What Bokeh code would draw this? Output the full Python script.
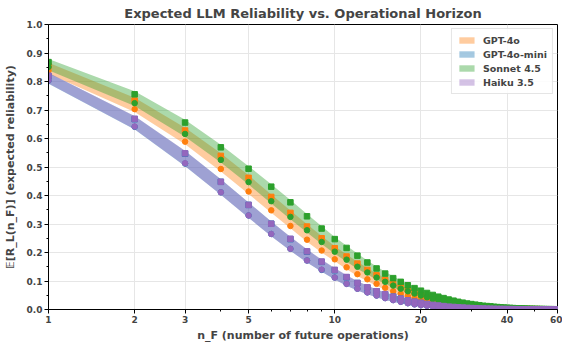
from bokeh.plotting import figure
from bokeh.models import (Range1d, FixedTicker, PrintfTickFormatter, ColumnDataSource, Legend, LegendItem)
from bokeh.embed import file_html
from bokeh.resources import INLINE

n_future = list(range(1, 61))

gpt4o_upper = [0.855, 0.733, 0.628, 0.539, 0.462, 0.395, 0.339, 0.291, 0.250, 0.215,
               0.186, 0.161, 0.139, 0.120, 0.104, 0.090, 0.078, 0.068, 0.059, 0.051,
               0.045, 0.039, 0.034, 0.030, 0.026, 0.023, 0.020, 0.017, 0.015, 0.013,
               0.012, 0.010, 0.009, 0.008, 0.007, 0.0062, 0.0055, 0.0048, 0.0043, 0.0038,
               0.0034, 0.0030, 0.0027, 0.0024, 0.0021, 0.0019, 0.0017, 0.0015, 0.0013, 0.0012,
               0.0011, 0.0010, 0.0009, 0.0008, 0.0007, 0.0006, 0.0006, 0.0005, 0.0005, 0.0004]
gpt4o_lower = [0.838, 0.703, 0.589, 0.493, 0.414, 0.348, 0.293, 0.245, 0.207, 0.176,
               0.148, 0.124, 0.106, 0.090, 0.076, 0.064, 0.055, 0.047, 0.040, 0.034,
               0.029, 0.025, 0.021, 0.018, 0.016, 0.014, 0.012, 0.010, 0.009, 0.0078,
               0.0068, 0.0059, 0.0051, 0.0045, 0.0039, 0.0034, 0.0030, 0.0026, 0.0023, 0.0020,
               0.0018, 0.0016, 0.0014, 0.0012, 0.0011, 0.0010, 0.0009, 0.0008, 0.0007, 0.0006,
               0.0005, 0.0005, 0.0004, 0.0004, 0.0003, 0.0003, 0.0003, 0.0002, 0.0002, 0.0002]

mini_upper = [0.819, 0.668, 0.547, 0.448, 0.367, 0.301, 0.247, 0.203, 0.167, 0.138,
              0.113, 0.093, 0.077, 0.064, 0.053, 0.045, 0.038, 0.032, 0.027, 0.023,
              0.019, 0.016, 0.014, 0.012, 0.010, 0.0088, 0.0076, 0.0066, 0.0057, 0.0050,
              0.0044, 0.0038, 0.0034, 0.0030, 0.0026, 0.0023, 0.0020, 0.0018, 0.0016, 0.0014,
              0.0013, 0.0011, 0.0010, 0.0009, 0.0008, 0.0007, 0.0007, 0.0006, 0.0005, 0.0005,
              0.0004, 0.0004, 0.0004, 0.0003, 0.0003, 0.0003, 0.0003, 0.0002, 0.0002, 0.0002]
mini_lower = [0.803, 0.641, 0.512, 0.411, 0.330, 0.265, 0.213, 0.172, 0.139, 0.112,
              0.090, 0.073, 0.060, 0.049, 0.040, 0.033, 0.027, 0.022, 0.018, 0.015,
              0.013, 0.011, 0.009, 0.0075, 0.0063, 0.0053, 0.0045, 0.0038, 0.0032, 0.0027,
              0.0023, 0.0020, 0.0017, 0.0015, 0.0013, 0.0011, 0.0010, 0.0008, 0.0007, 0.0006,
              0.0005, 0.0005, 0.0004, 0.0004, 0.0003, 0.0003, 0.0003, 0.0002, 0.0002, 0.0002,
              0.0002, 0.0002, 0.0001, 0.0001, 0.0001, 0.0001, 0.0001, 0.0001, 0.0001, 0.0001]

sonnet_upper = [0.868, 0.755, 0.656, 0.569, 0.494, 0.431, 0.376, 0.327, 0.284, 0.247,
                0.216, 0.189, 0.165, 0.144, 0.126, 0.110, 0.097, 0.085, 0.075, 0.066,
                0.058, 0.051, 0.045, 0.040, 0.035, 0.031, 0.027, 0.024, 0.021, 0.019,
                0.017, 0.015, 0.013, 0.012, 0.011, 0.0095, 0.0085, 0.0076, 0.0068, 0.0061,
                0.0055, 0.0049, 0.0044, 0.0040, 0.0036, 0.0032, 0.0029, 0.0026, 0.0024, 0.0021,
                0.0019, 0.0017, 0.0016, 0.0014, 0.0013, 0.0012, 0.0011, 0.0010, 0.0009, 0.0008]
sonnet_lower = [0.851, 0.724, 0.616, 0.525, 0.447, 0.380, 0.325, 0.278, 0.237, 0.203,
                0.175, 0.150, 0.130, 0.112, 0.097, 0.084, 0.073, 0.064, 0.056, 0.049,
                0.043, 0.037, 0.033, 0.029, 0.025, 0.022, 0.019, 0.017, 0.015, 0.013,
                0.012, 0.010, 0.009, 0.008, 0.007, 0.0063, 0.0056, 0.0050, 0.0044, 0.0039,
                0.0035, 0.0031, 0.0028, 0.0025, 0.0022, 0.0020, 0.0018, 0.0016, 0.0014, 0.0013,
                0.0011, 0.0010, 0.0009, 0.0008, 0.0007, 0.0006, 0.0006, 0.0005, 0.0005, 0.0004]

haiku_upper = [0.820, 0.669, 0.548, 0.448, 0.367, 0.301, 0.248, 0.204, 0.168, 0.139,
               0.114, 0.093, 0.078, 0.064, 0.054, 0.045, 0.038, 0.032, 0.027, 0.023,
               0.019, 0.016, 0.014, 0.012, 0.010, 0.0088, 0.0076, 0.0066, 0.0057, 0.0050,
               0.0044, 0.0038, 0.0034, 0.0030, 0.0026, 0.0023, 0.0020, 0.0018, 0.0016, 0.0014,
               0.0013, 0.0011, 0.0010, 0.0009, 0.0008, 0.0007, 0.0007, 0.0006, 0.0005, 0.0005,
               0.0004, 0.0004, 0.0004, 0.0003, 0.0003, 0.0003, 0.0003, 0.0002, 0.0002, 0.0002]
haiku_lower = [0.804, 0.642, 0.513, 0.411, 0.330, 0.265, 0.213, 0.172, 0.140, 0.112,
               0.090, 0.073, 0.060, 0.049, 0.040, 0.033, 0.027, 0.022, 0.018, 0.015,
               0.013, 0.011, 0.009, 0.0075, 0.0063, 0.0053, 0.0045, 0.0038, 0.0032, 0.0027,
               0.0023, 0.0020, 0.0017, 0.0015, 0.0013, 0.0011, 0.0010, 0.0008, 0.0007, 0.0006,
               0.0005, 0.0005, 0.0004, 0.0004, 0.0003, 0.0003, 0.0003, 0.0002, 0.0002, 0.0002,
               0.0002, 0.0002, 0.0001, 0.0001, 0.0001, 0.0001, 0.0001, 0.0001, 0.0001, 0.0001]

models = ["GPT-4o", "GPT-4o-mini", "Sonnet 4.5", "Haiku 3.5"]
colors = ["#ff7f0e", "#1f77b4", "#2ca02c", "#9467bd"]
uppers = [gpt4o_upper, mini_upper, sonnet_upper, haiku_upper]
lowers = [gpt4o_lower, mini_lower, sonnet_lower, haiku_lower]

x_ticks = [1, 2, 3, 5, 10, 20, 40, 60]
x_minor = [4, 6, 7, 8, 9, 30, 50]
y_ticks = [0.0, 0.1, 0.2, 0.3, 0.4, 0.5, 0.6, 0.7, 0.8, 0.9, 1.0]
y_minor = [0.05, 0.15, 0.25, 0.35, 0.45, 0.55, 0.65, 0.75, 0.85, 0.95]

FONT = "DejaVu Sans"

p = figure(width=562, height=344, x_axis_type="log", output_backend="svg",
           toolbar_location=None, x_range=Range1d(1, 60), y_range=Range1d(0, 1.0),
           title="Expected LLM Reliability vs. Operational Horizon",
           min_border_left=0, min_border_right=5, min_border_top=9, min_border_bottom=0)

p.title.align = "center"
p.title.text_font = FONT
p.title.text_font_size = "13px"
p.title.text_font_style = "bold"
p.title.offset = 0
p.title.standoff = 7

items = []
for name, col, up, lo in zip(models, colors, uppers, lowers):
    y_hi = [u + 0.006 + 0.006 * u for u in up]
    y_lo = [max(0.0, l - 0.006 - 0.006 * l) for l in lo]
    src = ColumnDataSource(dict(x=n_future, y1=y_lo, y2=y_hi))
    r = p.varea(x="x", y1="y1", y2="y2", source=src, fill_color=col, fill_alpha=0.4)
    items.append(LegendItem(label=name, renderers=[r]))

for name, col, up, lo in zip(models, colors, uppers, lowers):
    p.scatter(n_future, up, marker="square", size=5.5, fill_color=col, line_color=col)
    p.scatter(n_future, lo, marker="circle", size=5.5, fill_color=col, line_color=col)

legend = Legend(items=items, location="top_right")
legend.label_text_font = FONT
legend.label_text_font_style = "bold"
legend.label_text_font_size = "9.5px"
legend.glyph_width = 19
legend.glyph_height = 8
legend.label_height = 12
legend.label_standoff = 7
legend.spacing = 2
legend.padding = 5
legend.margin = 4
legend.border_line_color = "#cccccc"
legend.background_fill_alpha = 0.85
p.add_layout(legend)

xt = FixedTicker(ticks=x_ticks, minor_ticks=x_minor)
p.xaxis.ticker = xt
p.xaxis.formatter = PrintfTickFormatter(format="%d")
p.yaxis.ticker = FixedTicker(ticks=y_ticks, minor_ticks=y_minor)
p.yaxis.formatter = PrintfTickFormatter(format="%.1f")

for ax in (p.xaxis[0], p.yaxis[0]):
    ax.major_label_text_font = FONT
    ax.major_label_text_font_style = "bold"
    ax.major_label_text_font_size = "9px"
    ax.axis_label_text_font = FONT
    ax.axis_label_text_font_style = "bold"
    ax.axis_label_text_font_size = "11px"
    ax.axis_line_color = "black"
    ax.major_tick_line_color = "black"
    ax.minor_tick_line_color = "black"
    ax.major_tick_out = 4
    ax.major_tick_in = 0
    ax.minor_tick_out = 2
    ax.minor_tick_in = 0
    ax.major_label_standoff = 2
    ax.axis_label_standoff = 5

p.xaxis.axis_label_standoff = 3
p.yaxis.axis_label_standoff = 7
p.xaxis.axis_label = "n_F (number of future operations)"
p.yaxis.axis_label = "𝔼[R_L(n_F)] (expected reliability)"

p.xgrid.ticker = xt
p.grid.grid_line_color = "#e6e6e6"
p.grid.grid_line_width = 1
p.outline_line_color = "black"
p.outline_line_width = 1

open("out.html", "w").write(file_html(p, INLINE))
